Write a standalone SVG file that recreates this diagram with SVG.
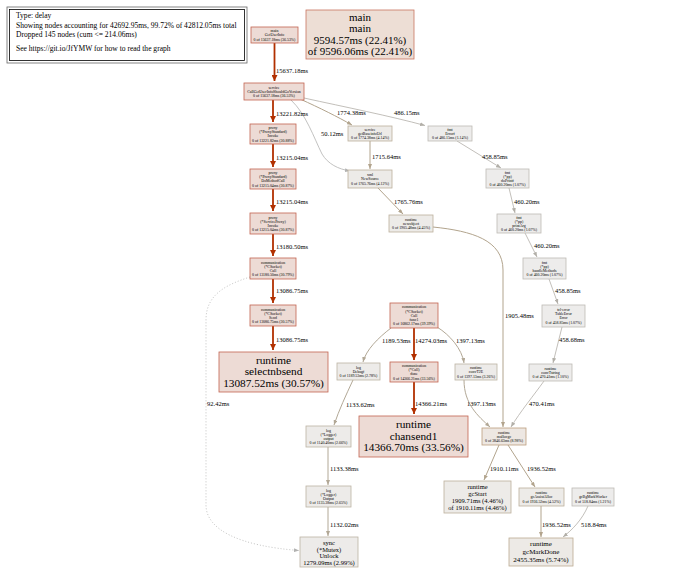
<svg xmlns="http://www.w3.org/2000/svg" width="674" height="583" viewBox="0 0 674 583">
<style>
text{font-family:"Liberation Serif","Times New Roman",serif;fill:#000}
.s{font-size:3.9px;text-anchor:middle}
.el{font-size:6.5px}
.lg{font-size:7.55px}
.n rect{stroke-width:0.8}
.hot rect{fill:#eddbd5;stroke:#c26450}
.warm rect{fill:#edded5;stroke:#c87560}
.t4 rect{fill:#edebe8;stroke:#bcb09c}
.t3 rect{fill:#edebe9;stroke:#bcb3a3}
.t1 rect{fill:#edeceb;stroke:#bdbbb4}
.t9 rect{fill:#ede7e2;stroke:#bc9e7e}
.t5 rect{fill:#edeae6;stroke:#bcab92}
.e path{fill:none}
.r{stroke:#b23000;stroke-width:1.8}
.tm{stroke:#b2a48d;stroke-width:1}
.tl{stroke:#b2a896;stroke-width:1}
.g{stroke:#b2afa8;stroke-width:0.8}
.gg{stroke:#b2b2b1;stroke-width:0.8}
</style>
<defs>
<marker id="ar" markerUnits="userSpaceOnUse" markerWidth="7" markerHeight="6" refX="6" refY="3" orient="auto"><path d="M0,0 L6,3 L0,6 z" fill="#b23000"/></marker>
<marker id="atm" markerUnits="userSpaceOnUse" markerWidth="5" markerHeight="4" refX="5" refY="2" orient="auto"><path d="M0,0 L5,2 L0,4 z" fill="#b2a48d"/></marker>
<marker id="atl" markerUnits="userSpaceOnUse" markerWidth="5" markerHeight="4" refX="5" refY="2" orient="auto"><path d="M0,0 L5,2 L0,4 z" fill="#b2a896"/></marker>
<marker id="ag" markerUnits="userSpaceOnUse" markerWidth="5" markerHeight="4" refX="5" refY="2" orient="auto"><path d="M0,0 L5,2 L0,4 z" fill="#b2afa8"/></marker>
<marker id="agg" markerUnits="userSpaceOnUse" markerWidth="5" markerHeight="4" refX="5" refY="2" orient="auto"><path d="M0,0 L5,2 L0,4 z" fill="#b2b2b1"/></marker>
</defs>
<rect width="674" height="583" fill="#fff"/>

<g id="legend">
<rect x="7" y="7" width="240" height="56" fill="none" stroke="#666" stroke-width="0.8"/>
<rect x="9.5" y="9.5" width="235" height="51" fill="#fff" stroke="#000" stroke-width="0.8"/>
<text class="lg" x="16" y="18">Type: delay</text>
<text class="lg" x="16" y="27.5">Showing nodes accounting for 42692.95ms, 99.72% of 42812.05ms total</text>
<text class="lg" x="16" y="36.5">Dropped 145 nodes (cum &lt;= 214.06ms)</text>
<text class="lg" x="16" y="51">See https://git.io/JfYMW for how to read the graph</text>
</g>

<g id="edges" class="e">
<path class="r" d="M274.5,43 L274.5,81" marker-end="url(#ar)"/>
<path class="r" d="M273,100 L273,122" marker-end="url(#ar)"/>
<path class="r" d="M273,144 L273,167" marker-end="url(#ar)"/>
<path class="r" d="M273,189 L273,211" marker-end="url(#ar)"/>
<path class="r" d="M273,234 L273,256" marker-end="url(#ar)"/>
<path class="r" d="M273,279 L273,303" marker-end="url(#ar)"/>
<path class="r" d="M273,326 L273,350" marker-end="url(#ar)"/>
<path class="tm" d="M300,99 C320,108 338,117 352,125" marker-end="url(#atm)"/>
<path class="g" d="M304,98 C345,107 390,116 425,125.5" marker-end="url(#ag)"/>
<path class="gg" d="M291,100 C306,114 314,138 322,154 C328,164 338,169 350,171" marker-end="url(#agg)"/>
<path class="tm" d="M370,141 L370,169" marker-end="url(#atm)"/>
<path class="tm" d="M378,188 L403,214" marker-end="url(#atm)"/>
<path class="tm" d="M433,227 C472,231 503,240 503,270 L503,427" marker-end="url(#atm)"/>
<path class="g" d="M457,141 L501,168" marker-end="url(#ag)"/>
<path class="g" d="M509,188 L515,213" marker-end="url(#ag)"/>
<path class="g" d="M525,233 L537,257" marker-end="url(#ag)"/>
<path class="g" d="M549,279 L558,304" marker-end="url(#ag)"/>
<path class="g" d="M562,327 L553,363" marker-end="url(#ag)"/>
<path class="g" d="M544,381 C534,395 520,412 511,427" marker-end="url(#ag)"/>
<path class="r" d="M414,328 L414,360" marker-end="url(#ar)"/>
<path class="tl" d="M391,328 C378,338 366,350 363,362" marker-end="url(#atl)"/>
<path class="tl" d="M437,327 C450,335 462,349 464,363" marker-end="url(#atl)"/>
<path class="r" d="M414,382 L414,414" marker-end="url(#ar)"/>
<path class="tl" d="M353,380 C346,395 339,410 334,425" marker-end="url(#atl)"/>
<path class="tl" d="M464,380 C464,404 478,416 490,427" marker-end="url(#atl)"/>
<path class="tl" d="M328,447 L328,485" marker-end="url(#atl)"/>
<path class="tl" d="M328,507 L328,536" marker-end="url(#atl)"/>
<path class="gg" stroke-dasharray="1,2" d="M250,277 C225,285 206,295 206,320 L206,505 C206,530 240,546 299,550.5" marker-end="url(#agg)"/>
<path class="tm" d="M499,445 L484,480" marker-end="url(#atm)"/>
<path class="tm" d="M508,445 L535,487" marker-end="url(#atm)"/>
<path class="tm" d="M541,506 L541,537" marker-end="url(#atm)"/>
<path class="g" d="M588,506 C582,520 572,530 563,537" marker-end="url(#ag)"/>
</g>

<g id="edge-labels">
<text class="el" x="276" y="73">15637.18ms</text>
<text class="el" x="276" y="115.5">13221.82ms</text>
<text class="el" x="276" y="159.5">13215.04ms</text>
<text class="el" x="276" y="204">13215.04ms</text>
<text class="el" x="276" y="249">13180.50ms</text>
<text class="el" x="276" y="293">13086.75ms</text>
<text class="el" x="276" y="341.5">13086.75ms</text>
<text class="el" x="337" y="115">1774.38ms</text>
<text class="el" x="394" y="115">486.15ms</text>
<text class="el" x="321" y="136">50.12ms</text>
<text class="el" x="372" y="158.5">1715.64ms</text>
<text class="el" x="394" y="204">1765.76ms</text>
<text class="el" x="505" y="318">1905.48ms</text>
<text class="el" x="482" y="159">458.85ms</text>
<text class="el" x="514" y="204">460.20ms</text>
<text class="el" x="534" y="248">460.20ms</text>
<text class="el" x="555" y="293">458.85ms</text>
<text class="el" x="559" y="342">458.68ms</text>
<text class="el" x="529" y="406">470.41ms</text>
<text class="el" x="382" y="343">1189.53ms</text>
<text class="el" x="415" y="343">14274.03ms</text>
<text class="el" x="456" y="343">1397.13ms</text>
<text class="el" x="415" y="406">14366.21ms</text>
<text class="el" x="346" y="407">1133.62ms</text>
<text class="el" x="467" y="406">1397.13ms</text>
<text class="el" x="330" y="471">1133.38ms</text>
<text class="el" x="330" y="527">1132.02ms</text>
<text class="el" x="207" y="406">92.42ms</text>
<text class="el" x="490" y="471">1910.11ms</text>
<text class="el" x="527" y="471">1936.52ms</text>
<text class="el" x="542" y="527">1936.52ms</text>
<text class="el" x="581" y="527">518.84ms</text>
</g>

<g id="n-main-getuserinfo" class="n hot"><rect x="251" y="27" width="47" height="16"/>
<text class="s" x="274.5" y="32.15">main</text><text class="s" x="274.5" y="36.35">GetUserInfo</text><text class="s" x="274.5" y="40.55">0 of 15637.18ms (36.53%)</text></g>

<g id="n-main-main" class="n warm"><rect x="306" y="10" width="108" height="49"/>
<text x="360" y="20.9" font-size="11" text-anchor="middle">main</text>
<text x="360" y="32.3" font-size="11" text-anchor="middle">main</text>
<text x="360" y="43.8" font-size="11" text-anchor="middle">9594.57ms (22.41%)</text>
<text x="360" y="55.2" font-size="11" text-anchor="middle">of 9596.06ms (22.41%)</text></g>

<g id="n-service" class="n hot"><rect x="244" y="83" width="60" height="17"/>
<text class="s" x="274" y="88.65">service</text><text class="s" x="274" y="92.85">CallGetUserInfoShouldGoVersion</text><text class="s" x="274" y="97.05">0 of 15637.18ms (36.53%)</text></g>

<g id="n-proxy-invoke" class="n hot"><rect x="250" y="124" width="46" height="20"/>
<text class="s" x="273" y="129.05">proxy</text><text class="s" x="273" y="133.25">(*ProxyStandard)</text><text class="s" x="273" y="137.45">Invoke</text><text class="s" x="273" y="141.65">0 of 13221.82ms (30.88%)</text></g>

<g id="n-proxy-domethodcall" class="n hot"><rect x="250" y="169" width="46" height="20"/>
<text class="s" x="273" y="174.05">proxy</text><text class="s" x="273" y="178.25">(*ProxyStandard)</text><text class="s" x="273" y="182.45">DoMethodCall</text><text class="s" x="273" y="186.65">0 of 13215.04ms (30.87%)</text></g>

<g id="n-serviceproxy-invoke" class="n hot"><rect x="250" y="213" width="46" height="21"/>
<text class="s" x="273" y="218.55">proxy</text><text class="s" x="273" y="222.75">(*ServiceProxy)</text><text class="s" x="273" y="226.95">Invoke</text><text class="s" x="273" y="231.15">0 of 13215.04ms (30.87%)</text></g>

<g id="n-csocket-call" class="n hot"><rect x="250" y="258" width="46" height="21"/>
<text class="s" x="273" y="263.55">communication</text><text class="s" x="273" y="267.75">(*CSocket)</text><text class="s" x="273" y="271.95">Call</text><text class="s" x="273" y="276.15">0 of 13180.50ms (30.79%)</text></g>

<g id="n-csocket-send" class="n hot"><rect x="250" y="305" width="46" height="21"/>
<text class="s" x="273" y="310.55">communication</text><text class="s" x="273" y="314.75">(*CSocket)</text><text class="s" x="273" y="318.95">Send</text><text class="s" x="273" y="323.15">0 of 13086.75ms (30.57%)</text></g>

<g id="n-selectnbsend" class="n hot"><rect x="219" y="352" width="109" height="40"/>
<text x="273.5" y="363.7" font-size="11.3" text-anchor="middle">runtime</text>
<text x="273.5" y="375.4" font-size="11.3" text-anchor="middle">selectnbsend</text>
<text x="273.5" y="387.1" font-size="11.3" text-anchor="middle">13087.52ms (30.57%)</text></g>

<g id="n-getbaseinfourl" class="n t4"><rect x="348" y="126" width="44" height="15"/>
<text class="s" x="370" y="130.65">service</text><text class="s" x="370" y="134.85">getBaseinfoUrl</text><text class="s" x="370" y="139.05">0 of 1774.38ms (4.14%)</text></g>

<g id="n-errorf" class="n t1"><rect x="428" y="126" width="44" height="15"/>
<text class="s" x="450" y="130.65">fmt</text><text class="s" x="450" y="134.85">Errorf</text><text class="s" x="450" y="139.05">0 of 486.15ms (1.14%)</text></g>

<g id="n-newsource" class="n t4"><rect x="348" y="170" width="44" height="18"/>
<text class="s" x="370" y="176.15">xml</text><text class="s" x="370" y="180.35">NewSource</text><text class="s" x="370" y="184.55">0 of 1765.76ms (4.12%)</text></g>

<g id="n-newobject" class="n t4"><rect x="389" y="215" width="44" height="17"/>
<text class="s" x="411" y="220.65">runtime</text><text class="s" x="411" y="224.85">newobject</text><text class="s" x="411" y="229.05">0 of 1905.48ms (4.45%)</text></g>

<g id="n-doprintf" class="n t1"><rect x="486" y="169" width="43" height="19"/>
<text class="s" x="507.5" y="173.55">fmt</text><text class="s" x="507.5" y="177.75">(*pp)</text><text class="s" x="507.5" y="181.95">doPrintf</text><text class="s" x="507.5" y="186.15">0 of 460.20ms (1.07%)</text></g>

<g id="n-printarg" class="n t1"><rect x="497" y="214" width="44" height="19"/>
<text class="s" x="519" y="218.55">fmt</text><text class="s" x="519" y="222.75">(*pp)</text><text class="s" x="519" y="226.95">printArg</text><text class="s" x="519" y="231.15">0 of 460.20ms (1.07%)</text></g>

<g id="n-handlemethods" class="n t1"><rect x="523" y="258" width="43" height="21"/>
<text class="s" x="544.5" y="263.55">fmt</text><text class="s" x="544.5" y="267.75">(*pp)</text><text class="s" x="544.5" y="271.95">handleMethods</text><text class="s" x="544.5" y="276.15">0 of 460.20ms (1.07%)</text></g>

<g id="n-tableerror" class="n t1"><rect x="542" y="305" width="43" height="22"/>
<text class="s" x="563.5" y="311.05">tcl-error</text><text class="s" x="563.5" y="315.25">TableError</text><text class="s" x="563.5" y="319.45">Error</text><text class="s" x="563.5" y="323.65">0 of 458.85ms (1.07%)</text></g>

<g id="n-convtstring" class="n t1"><rect x="529" y="364" width="43" height="17"/>
<text class="s" x="550.5" y="369.65">runtime</text><text class="s" x="550.5" y="373.85">convTstring</text><text class="s" x="550.5" y="378.05">0 of 470.41ms (1.10%)</text></g>

<g id="n-call-func1" class="n hot"><rect x="390" y="303" width="48" height="25"/>
<text class="s" x="414" y="308.45">communication</text><text class="s" x="414" y="312.65">(*CSocket)</text><text class="s" x="414" y="316.85">Call</text><text class="s" x="414" y="321.05">func1</text><text class="s" x="414" y="325.25">0 of 16862.17ms (39.39%)</text></g>

<g id="n-debugf" class="n t3"><rect x="337" y="363" width="43" height="17"/>
<text class="s" x="358.5" y="368.65">log</text><text class="s" x="358.5" y="372.85">Debugf</text><text class="s" x="358.5" y="377.05">0 of 1189.53ms (2.78%)</text></g>

<g id="n-call-done" class="n hot"><rect x="390" y="362" width="48" height="20"/>
<text class="s" x="414" y="367.05">communication</text><text class="s" x="414" y="371.25">(*Call)</text><text class="s" x="414" y="375.45">done</text><text class="s" x="414" y="379.65">0 of 14366.21ms (33.56%)</text></g>

<g id="n-convt2e" class="n t3"><rect x="455" y="364" width="42" height="16"/>
<text class="s" x="476" y="369.15">runtime</text><text class="s" x="476" y="373.35">convT2E</text><text class="s" x="476" y="377.55">0 of 1397.13ms (3.26%)</text></g>

<g id="n-chansend1" class="n hot"><rect x="359" y="416" width="109" height="41"/>
<text x="413.5" y="427.8" font-size="11.3" text-anchor="middle">runtime</text>
<text x="413.5" y="439.6" font-size="11.3" text-anchor="middle">chansend1</text>
<text x="413.5" y="451.4" font-size="11.3" text-anchor="middle">14366.70ms (33.56%)</text></g>

<g id="n-logger-output" class="n t3"><rect x="306" y="426" width="45" height="21"/>
<text class="s" x="328.5" y="431.55">log</text><text class="s" x="328.5" y="435.75">(*Logger)</text><text class="s" x="328.5" y="439.95">output</text><text class="s" x="328.5" y="444.15">0 of 1140.40ms (2.66%)</text></g>

<g id="n-logger-Output" class="n t3"><rect x="306" y="486" width="45" height="21"/>
<text class="s" x="328.5" y="491.55">log</text><text class="s" x="328.5" y="495.75">(*Logger)</text><text class="s" x="328.5" y="499.95">Output</text><text class="s" x="328.5" y="504.15">0 of 1135.38ms (2.65%)</text></g>

<g id="n-mutex-unlock" class="n t3"><rect x="300" y="537" width="58" height="30"/>
<text x="329" y="545" font-size="6.5" text-anchor="middle">sync</text>
<text x="329" y="551.6" font-size="6.5" text-anchor="middle">(*Mutex)</text>
<text x="329" y="558.2" font-size="6.5" text-anchor="middle">Unlock</text>
<text x="329" y="564.8" font-size="6.5" text-anchor="middle">1279.09ms (2.99%)</text></g>

<g id="n-mallocgc" class="n t9"><rect x="482" y="428" width="44" height="17"/>
<text class="s" x="504" y="433.65">runtime</text><text class="s" x="504" y="437.85">mallocgc</text><text class="s" x="504" y="442.05">0 of 3846.63ms (8.98%)</text></g>

<g id="n-gcstart" class="n t4"><rect x="444" y="481" width="67" height="32"/>
<text x="477.5" y="489" font-size="6.5" text-anchor="middle">runtime</text>
<text x="477.5" y="495.9" font-size="6.5" text-anchor="middle">gcStart</text>
<text x="477.5" y="502.8" font-size="6.5" text-anchor="middle">1909.71ms (4.46%)</text>
<text x="477.5" y="509.7" font-size="6.5" text-anchor="middle">of 1910.11ms (4.46%)</text></g>

<g id="n-gcassistalloc" class="n t4"><rect x="519" y="488" width="45" height="18"/>
<text class="s" x="541.5" y="494.15">runtime</text><text class="s" x="541.5" y="498.35">gcAssistAlloc</text><text class="s" x="541.5" y="502.55">0 of 1936.52ms (4.52%)</text></g>

<g id="n-gcbgmarkworker" class="n t1"><rect x="572" y="488" width="42" height="18"/>
<text class="s" x="593" y="494.15">runtime</text><text class="s" x="593" y="498.35">gcBgMarkWorker</text><text class="s" x="593" y="502.55">0 of 518.84ms (1.21%)</text></g>

<g id="n-gcmarkdone" class="n t5"><rect x="509" y="538" width="64" height="28"/>
<text x="541" y="545.8" font-size="7" text-anchor="middle">runtime</text>
<text x="541" y="553.9" font-size="7" text-anchor="middle">gcMarkDone</text>
<text x="541" y="562" font-size="7" text-anchor="middle">2455.35ms (5.74%)</text></g>
</svg>
